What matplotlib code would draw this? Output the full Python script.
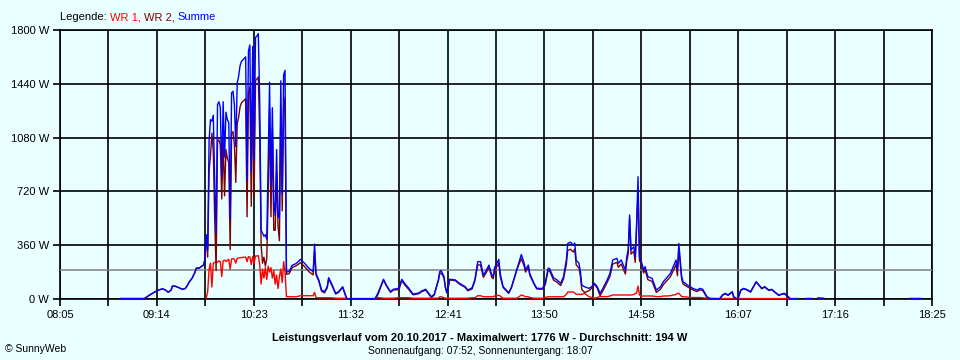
import numpy as np
import matplotlib.pyplot as plt

# time labels on the x axis (ticks are equally spaced from 08:05 to 18:25)
tick_labels = ["08:05", "09:14", "10:23", "11:32", "12:41",
               "13:50", "14:58", "16:07", "17:16", "18:25"]
y_ticks = [0, 360, 720, 1080, 1440, 1800]
average = 194

times = [
    "08:48", "09:05", "09:09", "09:12", "09:15", "09:18", "09:20", "09:22", "09:24", "09:25",
    "09:27", "09:29", "09:32", "09:34", "09:35", "09:37", "09:39", "09:41", "09:42", "09:44",
    "09:46", "09:47", "09:48",
    "09:49", "09:50", "09:51", "09:52", "09:53", "09:54", "09:55", "09:56", "09:57", "09:58",
    "09:59", "10:00", "10:01", "10:02", "10:03", "10:04", "10:05", "10:06", "10:07", "10:08",
    "10:09", "10:10", "10:11", "10:12", "10:13", "10:14", "10:15", "10:16", "10:17", "10:18",
    "10:19", "10:20", "10:21", "10:22", "10:23", "10:24", "10:25", "10:26", "10:27", "10:28",
    "10:29", "10:30", "10:31", "10:32", "10:33", "10:34", "10:35", "10:36", "10:37", "10:38",
    "10:39", "10:40", "10:41", "10:42", "10:43", "10:44", "10:45",
    "10:46", "10:48", "10:50", "10:53", "10:56", "10:59", "11:02", "11:05", "11:06", "11:07",
    "11:09", "11:11", "11:13", "11:15", "11:16", "11:18", "11:21", "11:23", "11:26", "11:28",
    "11:29", "11:49", "11:51", "11:55", "11:57", "12:00", "12:02", "12:06", "12:08", "12:10",
    "12:13", "12:16", "12:20", "12:22", "12:25", "12:27", "12:29", "12:31", "12:34", "12:35",
    "12:36", "12:38", "12:39", "12:40", "12:41", "12:42", "12:46", "12:49", "12:53", "12:55",
    "12:58", "13:00", "13:02", "13:04", "13:06", "13:08", "13:10", "13:12", "13:13", "13:14",
    "13:17", "13:18", "13:20", "13:24", "13:26", "13:30", "13:33", "13:35", "13:36", "13:38",
    "13:39", "13:42", "13:44", "13:48", "13:50", "13:52", "13:53", "13:56", "13:58", "14:01",
    "14:03", "14:05", "14:06", "14:08", "14:10", "14:11", "14:12", "14:14", "14:15", "14:16",
    "14:18", "14:21", "14:23", "14:25", "14:27", "14:29", "14:31", "14:34", "14:36", "14:38",
    "14:41", "14:42", "14:44", "14:47", "14:48", "14:49", "14:50", "14:51", "14:53", "14:54",
    "14:55", "14:56", "14:57", "14:58", "15:00", "15:01", "15:03", "15:06", "15:09", "15:12",
    "15:14", "15:16", "15:19", "15:21", "15:23", "15:24", "15:25", "15:27", "15:28", "15:31",
    "15:33", "15:35", "15:38", "15:40", "15:42", "15:45", "15:47", "15:54", "15:56", "15:58",
    "16:00", "16:03", "16:04", "16:06", "16:07", "16:09", "16:11", "16:13", "16:16", "16:18",
    "16:20", "16:22", "16:24", "16:26", "16:29", "16:31", "16:33", "16:36", "16:38", "16:40",
    "16:43", "16:44", "16:49", "16:51", "16:56", "16:59", "17:01", "17:04", "17:08", "17:10",
    "18:09", "18:17",
]
summe = [
    3, 3, 28, 45, 60, 68, 60, 45, 60, 87,
    85, 78, 65, 70, 82, 115, 140, 180, 207, 207,
    220, 227, 260,
    430, 330, 1060, 1200, 1190, 1230, 780, 440, 1300, 1320,
    1280, 820, 1320, 950, 1250, 1200, 1180, 530, 1380, 1390,
    1300, 1020, 1445, 1490, 1560, 1590, 1600, 1610, 1620, 800,
    1660, 1700, 850, 1690, 930, 1750, 1760, 1776, 1330, 460,
    440, 420, 430, 400, 900, 1450, 760, 1280, 650, 560,
    1000, 560, 540, 1460, 700, 1500, 1530,
    180, 185, 225, 238, 265, 238, 205, 183, 368, 172,
    127, 60, 49, 82, 143, 105, 38, 49, 82, 27,
    3, 3, 38, 132, 94, 49, 65, 72, 132, 105,
    72, 33, 40, 53, 65, 40, 15, 30, 127, 183,
    190, 150, 83, 45, 80, 132, 128, 105, 83, 60,
    75, 130, 250, 250, 160, 190, 227, 160, 150, 210,
    265, 170, 83, 42, 80, 205, 298, 240, 195, 227,
    170, 105, 72, 70, 105, 205, 205, 140, 130, 105,
    150, 260, 372, 380, 361, 375, 260, 239, 183, 94,
    82, 71, 82, 105, 82, 38, 71, 127, 171, 261,
    272, 239, 261, 194, 283, 328, 562, 328, 350, 283,
    517, 818, 283, 261, 194, 216, 149, 138, 60, 82,
    116, 138, 171, 216, 261, 194, 372, 149, 116, 94,
    82, 71, 60, 71, 65, 15, 4, 2, 27, 38,
    27, 49, 15, 3, 3, 60, 71, 65, 49, 83,
    116, 94, 71, 83, 60, 65, 49, 27, 33, 38,
    15, 3, 3, None, 3, 3, None, 6, 4, None,
    3, 3,
]
wr1 = [
    None, None, None, None, None, None, None, None, None, None,
    None, None, None, None, None, None, None, None, None, None,
    None, None, None,
    5, 50, 200, 240, 80, 240, 245, 250, 245, 255,
    250, 150, 255, 260, 250, 260, 265, 200, 268, 270,
    265, 240, 272, 275, 275, 278, 278, 280, 280, 250,
    283, 282, 230, 285, 240, 288, 288, 290, 230, 100,
    200, 140, 210, 130, 220, 180, 210, 140, 190, 100,
    160, 70, 150, 200, 110, 250, 180,
    15, 15, 15, 15, 22, 22, 22, 22, 45, 10,
    8, 8, 8, 8, 8, 8, 5, 5, 5, 5,
    2, 2, 10, 5, 5, 5, 5, 9, 9, 9,
    9, 5, 5, 5, 5, 5, 5, 5, 5, 15,
    15, 8, 5, 5, 5, 5, 5, 5, 5, 5,
    8, 8, 22, 22, 15, 15, 15, 15, 15, 20,
    25, 20, 5, 5, 5, 5, 27, 20, 15, 15,
    10, 5, 5, 5, 10, 15, 15, 15, 15, 15,
    15, 30, 47, 47, 47, 40, 31, 31, 31, 31,
    38, 16, 10, 5, 10, 16, 16, 16, 20, 27,
    27, 27, 27, 27, 27, 27, 27, 27, 30, 38,
    40, 87, 27, 20, 20, 20, 20, 20, 16, 16,
    20, 20, 22, 27, 30, 38, 38, 16, 16, 12,
    10, 10, 10, 10, 8, 5, 3, 3, 3, 3,
    3, 3, 3, 3, 3, 3, 3, 3, 3, 3,
    3, 3, 3, 3, 3, 3, 3, 3, 3, 3,
    3, 3, None, None, None, None, None, None, None, None,
    None, None,
]


def to_minutes(s):
    h, m = s.split(":")
    return int(h) * 60 + int(m)


t = np.array([to_minutes(s) for s in times], dtype=float)
summe = np.array(summe, dtype=float)
wr1 = np.array(wr1, dtype=float)
wr2 = summe - np.nan_to_num(wr1)

bg = "#EAFFFF"
fig = plt.figure(figsize=(9.6, 3.6), dpi=100, facecolor=bg)
plt.rcParams["font.family"] = ["Liberation Sans", "DejaVu Sans"]
ax = fig.add_axes([60 / 960, 61 / 360, 872 / 960, 269 / 360], facecolor=bg)

ax.plot(t, wr1, color="#FF0000", lw=1.0, zorder=3)
ax.plot(t, wr2, color="#800000", lw=1.0, zorder=3)
ax.plot(t, summe, color="#0000FF", lw=1.0, zorder=4)
ax.axhline(average, color="#808080", lw=1.1, zorder=2.6)

t0, t1 = to_minutes(tick_labels[0]), to_minutes(tick_labels[-1])
major = np.linspace(t0, t1, len(tick_labels))
minor = (major[:-1] + major[1:]) / 2
ax.set_xlim(t0, t1)
ax.set_ylim(0, 1800)
ax.set_xticks(major)
ax.set_xticklabels(tick_labels)
ax.set_xticks(minor, minor=True)
ax.set_yticks(y_ticks)
ax.set_yticklabels([f"{v} W" for v in y_ticks])
ax.grid(True, which="both", axis="x", color="black", lw=1.2, zorder=2.5)
ax.grid(True, which="major", axis="y", color="black", lw=1.2, zorder=2.5)
ax.set_axisbelow(True)
ax.tick_params(which="both", direction="out", length=5, width=1.2, color="black",
               labelsize=8, pad=3)
for sp in ax.spines.values():
    sp.set_color("black")
    sp.set_linewidth(1.2)

# legend line in the top left
leg = fig.text(60 / 960, 1 - 17 / 360, "Legende: ", fontsize=8, va="center", ha="left")
prev = leg
for txt, col in [("WR 1, ", "#FF0000"), ("WR 2, ", "#800000"), ("Summe", "#0000FF")]:
    prev = ax.annotate(txt, xy=(1, 0), xycoords=prev, va="bottom", ha="left",
                       fontsize=8, color=col)

fig.text(480 / 960, 1 - 338 / 360,
         "Leistungsverlauf vom 20.10.2017 - Maximalwert: 1776 W - Durchschnitt: 194 W",
         fontsize=8, fontweight="bold", ha="center", va="center")
fig.text(480 / 960, 1 - 351 / 360, "Sonnenaufgang: 07:52, Sonnenuntergang: 18:07",
         fontsize=7.5, ha="center", va="center")
fig.text(5 / 960, 1 - 349 / 360, "\u00a9 SunnyWeb", fontsize=7.5, ha="left", va="center")

fig.savefig("out.png", dpi=100, facecolor=bg)
